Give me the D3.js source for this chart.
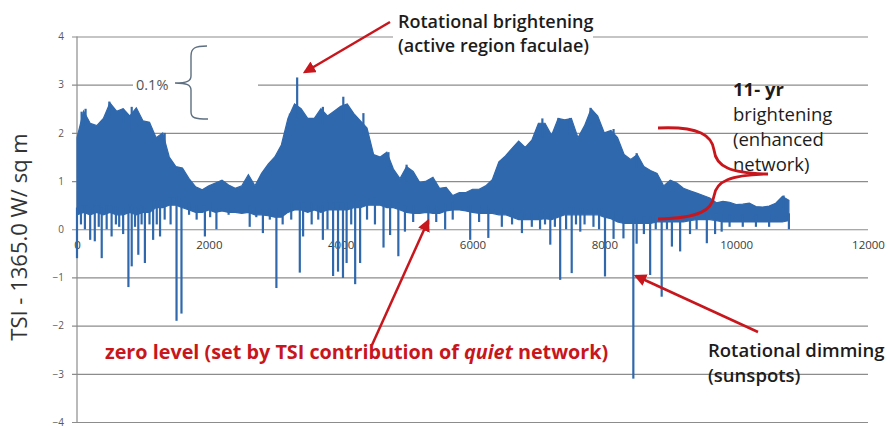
<!DOCTYPE html>
<html>
<head>
<meta charset="utf-8">
<script src="https://cdn.jsdelivr.net/npm/d3@7"></script>
<style>
  body { margin: 0; background: #fff; }
  svg { display: block; }
  text { font-family: "Open Sans", "Noto Sans", sans-serif; }
</style>
</head>
<body>
<script>
// Daily TSI anomaly, summarised in 100-day bins: top of the trace and
// bottom of its dense body (W/m^2 above 1365.0).
const binStep = 100;
const binDays = d3.range(0, 10801, binStep);
const upper = [
  1.90, 2.45, 2.20, 2.15, 2.30, 2.62, 2.45, 2.50, 2.35, 2.52,
  2.25, 2.22, 1.90, 2.00, 1.50, 1.30, 1.27, 1.05, 0.88, 0.82,
  0.90, 0.96, 1.02, 0.92, 0.85, 0.90, 1.13, 0.90, 1.16, 1.35,
  1.50, 1.75, 2.30, 2.60, 2.50, 2.30, 2.30, 2.50, 2.35, 2.45,
  2.55, 2.60, 2.40, 2.25, 2.10, 1.55, 1.50, 1.60, 1.25, 1.05,
  1.30, 1.20, 0.97, 1.00, 1.08, 0.85, 0.87, 0.70, 0.76, 0.76,
  0.83, 0.83, 0.90, 1.03, 1.40, 1.52, 1.68, 1.83, 1.70, 1.85,
  2.20, 2.20, 1.95, 2.30, 2.27, 2.30, 1.90, 2.15, 2.50, 2.35,
  2.00, 2.05, 1.90, 1.55, 1.45, 1.55, 1.30, 1.22, 1.16, 0.90,
  1.02, 0.96, 0.85, 0.80, 0.75, 0.70, 0.65, 0.55, 0.58, 0.56,
  0.51, 0.52, 0.54, 0.47, 0.46, 0.48, 0.54, 0.68, 0.60
];
const lower = [
  0.30, 0.35, 0.30, 0.35, 0.30, 0.35, 0.30, 0.30, 0.35, 0.30,
  0.35, 0.35, 0.45, 0.45, 0.50, 0.50, 0.45, 0.40, 0.35, 0.35,
  0.40, 0.35, 0.38, 0.35, 0.35, 0.33, 0.35, 0.30, 0.30, 0.28,
  0.25, 0.25, 0.35, 0.40, 0.40, 0.35, 0.40, 0.35, 0.40, 0.40,
  0.40, 0.40, 0.45, 0.45, 0.50, 0.50, 0.50, 0.45, 0.45, 0.40,
  0.35, 0.33, 0.33, 0.35, 0.33, 0.33, 0.38, 0.40, 0.40, 0.38,
  0.35, 0.33, 0.33, 0.33, 0.30, 0.30, 0.25, 0.20, 0.20, 0.20,
  0.20, 0.22, 0.20, 0.25, 0.30, 0.30, 0.30, 0.30, 0.30, 0.30,
  0.25, 0.22, 0.15, 0.12, 0.12, 0.12, 0.12, 0.12, 0.15, 0.15,
  0.15, 0.15, 0.15, 0.18, 0.20, 0.20, 0.20, 0.18, 0.15, 0.15,
  0.15, 0.15, 0.15, 0.15, 0.15, 0.15, 0.15, 0.15, 0.18
];
// Individual sunspot dips: [day, W/m^2]
const dips = [
  [0, -0.6], [60, 0.1], [120, 0.0], [200, -0.22], [270, -0.25], [330, 0.05],
  [375, -0.6], [450, 0.0], [525, -0.15], [590, 0.1], [640, 0.05], [700, -0.1],
  [780, -1.2], [830, -0.77], [880, 0.05], [930, -0.53], [980, 0.1], [1030, -0.7],
  [1100, 0.1], [1155, -0.22], [1210, 0.1], [1260, -0.15], [1330, 0.2], [1420, 0.1],
  [1510, -1.9], [1585, -1.75], [1700, 0.3], [1815, 0.2], [1940, -0.15], [2020, 0.25],
  [2115, 0.0], [2300, 0.3], [2620, 0.05], [2720, 0.25], [2820, -0.08], [2925, 0.2],
  [3025, -1.22], [3120, 0.1], [3250, 0.2], [3380, -0.9], [3430, -0.15], [3560, 0.1],
  [3660, 0.2], [3730, -0.22], [3800, 0.0], [3885, -0.97], [3960, -0.88], [4035, -1.01],
  [4090, -0.7], [4160, 0.1], [4220, -1.14], [4295, -0.7], [4400, 0.2], [4520, 0.1],
  [4650, -0.38], [4750, -0.12], [4875, -0.56], [4975, -0.05], [5100, 0.15], [5330, 0.1],
  [5450, 0.15], [5585, 0.0], [5700, 0.2], [5965, -0.22], [6100, 0.15], [6240, -0.18],
  [6445, 0.05], [6600, 0.1], [6750, -0.08], [6900, 0.05], [7025, 0.0], [7100, 0.1],
  [7180, -0.32], [7250, 0.05], [7330, -1.05], [7420, 0.0], [7505, -0.91], [7570, 0.1],
  [7635, -0.05], [7700, 0.1], [7835, 0.05], [7920, 0.0], [8010, -0.98], [8140, -0.2],
  [8290, -0.19], [8440, -3.1], [8490, -0.3], [8600, -0.1], [8695, -0.95], [8780, 0.0],
  [8870, -1.4], [8950, 0.0], [9025, -0.36], [9150, -0.46], [9300, -0.1], [9400, 0.0],
  [9555, -0.29], [9680, -0.1], [9780, -0.05], [9900, 0.05], [10100, 0.05], [10300, 0.05],
  [10500, 0.05], [10800, 0.0]
];
// Facular brightening spikes: [day, W/m^2]
const peaks = [
  [70, 2.44], [130, 2.5], [490, 2.65], [700, 2.5], [830, 2.54], [1330, 2.0],
  [3230, 2.4], [3340, 3.15], [3730, 2.54], [4040, 2.75], [4345, 2.41], [4725, 1.6],
  [5000, 1.34], [7060, 2.3], [7305, 2.31], [7480, 2.31], [7790, 2.52], [8140, 2.08],
  [8490, 1.58], [10720, 0.7]
];

const xTicks = [0, 2000, 4000, 6000, 8000, 10000, 12000];
const yTicks = [-4, -3, -2, -1, 0, 1, 2, 3, 4];

const W = 888, H = 428;
const blue = "#2f68ad", red = "#c8161d";

const svg = d3.select("body").append("svg")
  .attr("width", W).attr("height", H);

const x = d3.scaleLinear().domain([0, 12000]).range([77, 868]);
const y = d3.scaleLinear().domain([-4, 4]).range([422, 36.5]);

// Horizontal gridlines with short outer ticks
svg.append("g")
  .attr("transform", `translate(77,0)`)
  .call(d3.axisLeft(y).tickValues(yTicks).tickSize(-(868 - 77)).tickSizeOuter(0))
  .call(g => g.select(".domain").remove())
  .call(g => g.selectAll(".tick line").attr("x1", -5).attr("stroke", "#8c8c8c").attr("stroke-width", 1.2))
  .call(g => g.selectAll(".tick text")
    .attr("font-family", "'Liberation Sans', Arial, sans-serif")
    .attr("font-size", 10).attr("fill", "#595959").attr("x", -13));

// Vertical axis line
svg.append("line")
  .attr("x1", 77).attr("x2", 77).attr("y1", y(4)).attr("y2", y(-4))
  .attr("stroke", "#8c8c8c").attr("stroke-width", 1.2);

// Day labels sit just under the zero line
svg.append("g")
  .attr("transform", `translate(0,${y(0)})`)
  .call(d3.axisBottom(x).tickValues(xTicks).tickSize(0).tickPadding(12).tickFormat(d3.format("d")))
  .call(g => g.select(".domain").remove())
  .call(g => g.selectAll(".tick text")
    .attr("font-family", "'Liberation Sans', Arial, sans-serif")
    .attr("font-size", 11.5).attr("fill", "#3a3a3a"));

// Dense body of the daily trace
const band = d3.area()
  .x((d, i) => x(binDays[i]))
  .y0(d => y(d[0]))
  .y1(d => y(d[1]))
  .curve(d3.curveLinear);
svg.append("path")
  .datum(lower.map((lo, i) => [lo, upper[i]]))
  .attr("d", band)
  .attr("fill", blue)
  .attr("stroke", blue)
  .attr("stroke-width", 1.2);

const binAt = day => Math.min(binDays.length - 1, Math.round(day / binStep));

// Downward sunspot spikes
svg.append("g").selectAll("line").data(dips).join("line")
  .attr("x1", d => x(d[0])).attr("x2", d => x(d[0]))
  .attr("y1", d => y(lower[binAt(d[0])] + 0.15))
  .attr("y2", d => y(d[1]))
  .attr("stroke", blue).attr("stroke-width", 2.2);

// Upward facular spikes
svg.append("g").selectAll("line").data(peaks).join("line")
  .attr("x1", d => x(d[0])).attr("x2", d => x(d[0]))
  .attr("y1", d => y(upper[binAt(d[0])] - 0.3))
  .attr("y2", d => y(d[1]))
  .attr("stroke", blue).attr("stroke-width", 2.2);

// Axis title
svg.append("text")
  .attr("transform", "translate(27,237) rotate(-90)")
  .attr("text-anchor", "middle")
  .attr("font-size", 22).attr("fill", "#333")
  .text("TSI - 1365.0 W/ sq m");

// Axis caption, mostly below the frame
svg.append("text")
  .attr("x", 452).attr("y", 440).attr("text-anchor", "middle")
  .attr("font-size", 16).attr("fill", "#cfcfcf")
  .text("Days since Nov 17, 1978");

// Arrowhead
const defs = svg.append("defs");
defs.append("marker")
  .attr("id", "head").attr("viewBox", "0 0 10 10")
  .attr("refX", 8).attr("refY", 5)
  .attr("markerWidth", 5).attr("markerHeight", 5)
  .attr("orient", "auto")
  .append("path").attr("d", "M0,0 L10,5 L0,10 z").attr("fill", red);

function arrow(x1, y1, x2, y2) {
  svg.append("line")
    .attr("x1", x1).attr("y1", y1).attr("x2", x2).attr("y2", y2)
    .attr("stroke", red).attr("stroke-width", 2.5)
    .attr("marker-end", "url(#head)");
}

// 0.1% bracket
svg.append("rect").attr("x", 133).attr("y", 76).attr("width", 125).attr("height", 16).attr("fill", "#fff");
svg.append("text").attr("x", 136).attr("y", 90)
  .attr("font-size", 14.5).attr("fill", "#555").text("0.1%");
svg.append("path")
  .attr("d", "M207,46 C195,46 191,48 191,56 L191,76 C191,81 187,83 175,83 C187,83 191,85 191,90 L191,112 C191,118 195,119 208,119")
  .attr("fill", "none").attr("stroke", "#5d6f80").attr("stroke-width", 1.4);

// Facular brightening note
svg.append("rect").attr("x", 393).attr("y", 30).attr("width", 200).attr("height", 13).attr("fill", "#fff");
svg.append("text").attr("x", 398).attr("y", 28)
  .attr("font-size", 18).attr("font-weight", 600).attr("fill", "#1c1c1c").text("Rotational brightening");
svg.append("text").attr("x", 398).attr("y", 52)
  .attr("font-size", 18).attr("font-weight", 600).attr("fill", "#1c1c1c").text("(active region faculae)");
arrow(390, 22, 305, 72);

// 11-yr brightening note and brace
const note = svg.append("g").attr("font-size", 18.5).attr("fill", "#1c1c1c");
note.append("text").attr("x", 733).attr("y", 96).attr("font-weight", 700).text("11- yr");
note.append("text").attr("x", 733).attr("y", 121).text("brightening");
note.append("text").attr("x", 733).attr("y", 146).text("(enhanced");
note.append("text").attr("x", 733).attr("y", 171).text("network)");
svg.append("path")
  .attr("d", "M658,128 C700,126 712,136 714,150 C716,167 730,173 768,174 C730,175 716,181 714,196 C712,210 700,218 658,219")
  .attr("fill", "none").attr("stroke", red).attr("stroke-width", 2.8);

// Zero-level note
const zero = svg.append("text").attr("x", 105).attr("y", 359)
  .attr("font-size", 19.8).attr("font-weight", 700).attr("fill", red);
zero.append("tspan").text("zero level (set by TSI contribution of ");
zero.append("tspan").attr("font-style", "italic").text("quiet");
zero.append("tspan").text(" network)");
arrow(372, 345, 428, 221);

// Sunspot dimming note
svg.append("text").attr("x", 708).attr("y", 357)
  .attr("font-size", 18.5).attr("font-weight", 600).attr("fill", "#1c1c1c").text("Rotational dimming");
svg.append("text").attr("x", 708).attr("y", 382)
  .attr("font-size", 18.5).attr("font-weight", 600).attr("fill", "#1c1c1c").text("(sunspots)");
arrow(758, 332, 636, 276);
</script>
</body>
</html>
